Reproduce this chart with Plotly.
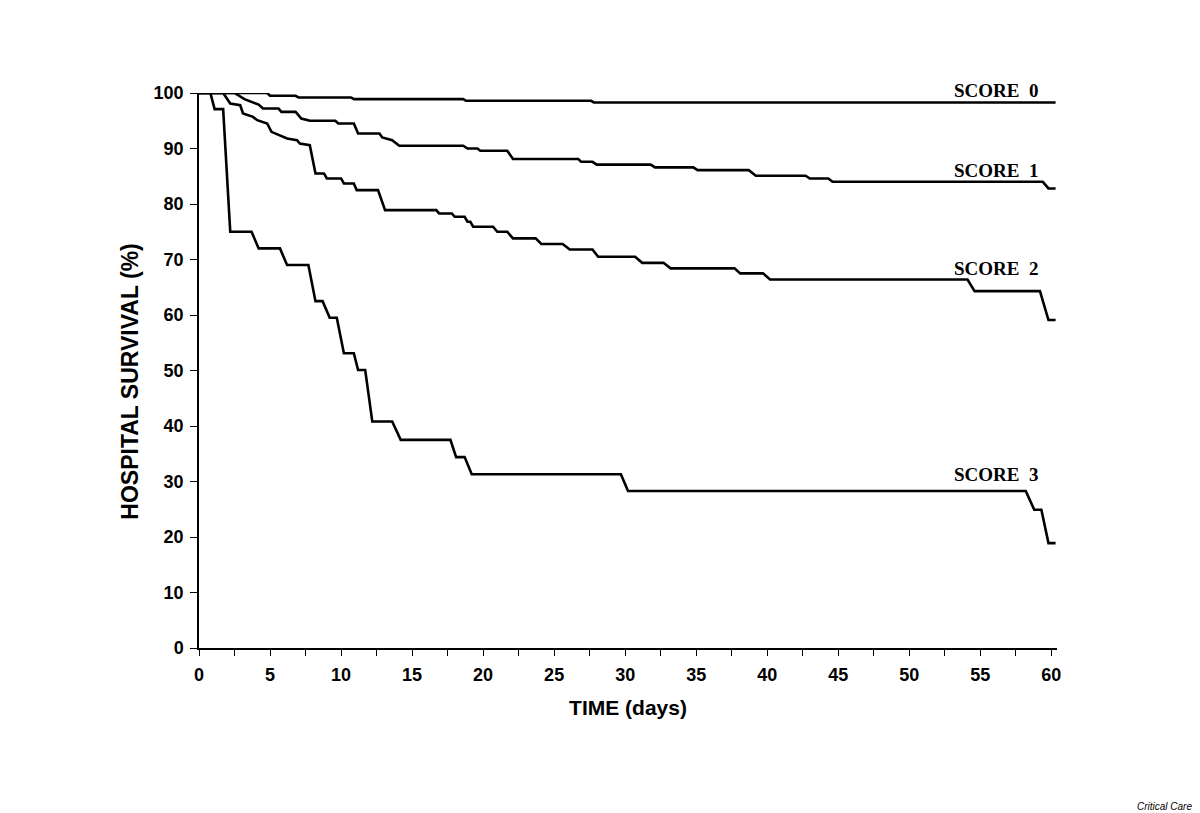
import plotly.graph_objects as go

# Kaplan-Meier style survival curves (corner points)
score0_days = [0, 4.8, 5.0, 6.8, 7.0, 10.7, 10.9, 18.6, 18.8, 27.6, 27.8, 60.3]
score0_surv = [100, 100, 99.5, 99.5, 99.2, 99.2, 98.9, 98.9, 98.6, 98.6, 98.3, 98.3]

score1_days = [0, 2.5, 3.2, 4.2, 4.5, 5.6, 5.8, 6.8, 7.0, 7.2, 7.8, 9.6, 9.8, 10.9, 11.2,
               12.7, 12.9, 13.6, 14.1, 18.6, 18.9, 19.6, 19.8, 21.7, 22.1, 26.7, 26.9,
               27.7, 28.0, 31.8, 32.1, 34.8, 35.1, 38.7, 39.2, 42.7, 43.0, 44.3, 44.6,
               59.4, 59.8, 60.3]
score1_surv = [100, 100, 98.9, 97.9, 97.2, 97.2, 96.6, 96.6, 96.0, 95.4, 95.0, 95.0, 94.5,
               94.5, 92.7, 92.7, 92.0, 91.5, 90.5, 90.5, 90.0, 90.0, 89.6, 89.6, 88.1,
               88.1, 87.6, 87.6, 87.1, 87.1, 86.6, 86.6, 86.1, 86.1, 85.1, 85.1, 84.6,
               84.6, 84.0, 84.0, 82.8, 82.8]

score2_days = [0, 1.7, 2.2, 2.9, 3.1, 3.8, 4.1, 4.8, 5.1, 5.7, 6.2, 6.9, 7.1, 7.8, 8.2,
               8.8, 9.0, 10.0, 10.2, 10.9, 11.1, 12.6, 13.1, 16.7, 16.9, 17.8, 18.0,
               18.7, 18.9, 19.1, 19.3, 20.7, 21.0, 21.7, 22.1, 23.7, 24.1, 25.6, 26.1,
               27.7, 28.1, 30.7, 31.2, 32.7, 33.2, 37.7, 38.1, 39.7, 40.2, 54.1, 54.6,
               59.2, 59.8, 60.3]
score2_surv = [100, 100, 98.1, 97.8, 96.3, 95.7, 95.1, 94.5, 93.0, 92.4, 91.8, 91.5, 90.9,
               90.6, 85.5, 85.5, 84.6, 84.6, 83.7, 83.7, 82.5, 82.5, 78.9, 78.9, 78.3,
               78.3, 77.7, 77.7, 76.8, 76.8, 75.9, 75.9, 75.0, 75.0, 73.8, 73.8, 72.8,
               72.8, 71.8, 71.8, 70.5, 70.5, 69.4, 69.4, 68.4, 68.4, 67.5, 67.5, 66.4,
               66.4, 64.3, 64.3, 59.1, 59.1]

score3_days = [0, 0.8, 1.1, 1.7, 2.2, 3.7, 4.2, 5.7, 6.2, 7.7, 8.2, 8.7, 9.2, 9.7, 10.2,
               10.9, 11.2, 11.7, 12.2, 13.6, 14.2, 17.7, 18.1, 18.7, 19.2, 29.7, 30.2,
               58.2, 58.8, 59.3, 59.8, 60.3]
score3_surv = [100, 100, 97.1, 97.1, 75.0, 75.0, 72.0, 72.0, 69.0, 69.0, 62.5, 62.5, 59.5,
               59.5, 53.1, 53.1, 50.1, 50.1, 40.8, 40.8, 37.5, 37.5, 34.4, 34.4, 31.3,
               31.3, 28.3, 28.3, 24.9, 24.9, 18.9, 18.9]

series_names = ["SCORE\u00a0\u00a00", "SCORE\u00a0\u00a01", "SCORE\u00a0\u00a02", "SCORE\u00a0\u00a03"]
label_levels = [100.4, 86.1, 68.4, 31.3]
label_day = 56.1

x_ticks = [0, 5, 10, 15, 20, 25, 30, 35, 40, 45, 50, 55, 60]
y_ticks = [0, 10, 20, 30, 40, 50, 60, 70, 80, 90, 100]

SANS = "Liberation Sans, Arial, sans-serif"

fig = go.Figure()
for xs, ys, name in [(score0_days, score0_surv, series_names[0]),
                     (score1_days, score1_surv, series_names[1]),
                     (score2_days, score2_surv, series_names[2]),
                     (score3_days, score3_surv, series_names[3])]:
    fig.add_trace(go.Scatter(x=xs, y=ys, mode="lines", name=name,
                             line=dict(color="black", width=2.6),
                             showlegend=False, hoverinfo="skip"))

for name, lvl in zip(series_names, label_levels):
    fig.add_annotation(x=label_day, y=lvl / 100, xref="x", yref="paper",
                       text=name, showarrow=False, xanchor="center", yanchor="middle",
                       font=dict(family="Liberation Serif, Times New Roman, serif",
                                 size=19, color="black", weight="bold"))

# y-axis title as a rotated annotation for exact placement
fig.add_annotation(x=-0.0798, y=0.479, xref="paper", yref="paper",
                   text="HOSPITAL SURVIVAL (%)", textangle=-90, showarrow=False,
                   xanchor="center", yanchor="middle",
                   font=dict(family=SANS, size=23, color="black", weight="bold"))

fig.add_annotation(x=1.125, y=-0.285, xref="paper", yref="paper", text="Critical Care",
                   showarrow=False, xanchor="center", yanchor="middle",
                   font=dict(family=SANS, size=10, color="black", style="italic"))

tick_font = dict(family=SANS, size=18, color="black", weight="bold")

# page body adds an 8 px margin, so the figure is 8 px smaller than the window
fig.update_layout(
    width=1192, height=805,
    margin=dict(l=191, r=143, t=85, b=165),
    paper_bgcolor="white", plot_bgcolor="white",
    xaxis=dict(range=[0, 60.4], tickvals=x_ticks, ticks="outside", ticklen=6,
               tickwidth=1.3, tickcolor="black", ticklabelstandoff=4,
               minor=dict(dtick=2.5, tick0=0, ticks="outside", ticklen=6,
                          tickwidth=1.3, tickcolor="black"),
               showline=True, linecolor="black", linewidth=1.5, showgrid=False,
               zeroline=False, tickfont=tick_font,
               title=dict(text="TIME (days)", standoff=16,
                          font=dict(family=SANS, size=21, color="black", weight="bold"))),
    yaxis=dict(range=[0, 100], tickvals=y_ticks, ticks="outside", ticklen=7,
               tickwidth=1.3, tickcolor="black", ticklabelstandoff=3,
               showline=True, linecolor="black", linewidth=1.5, showgrid=False,
               zeroline=False, tickfont=tick_font),
)

fig.write_html("out.html")
